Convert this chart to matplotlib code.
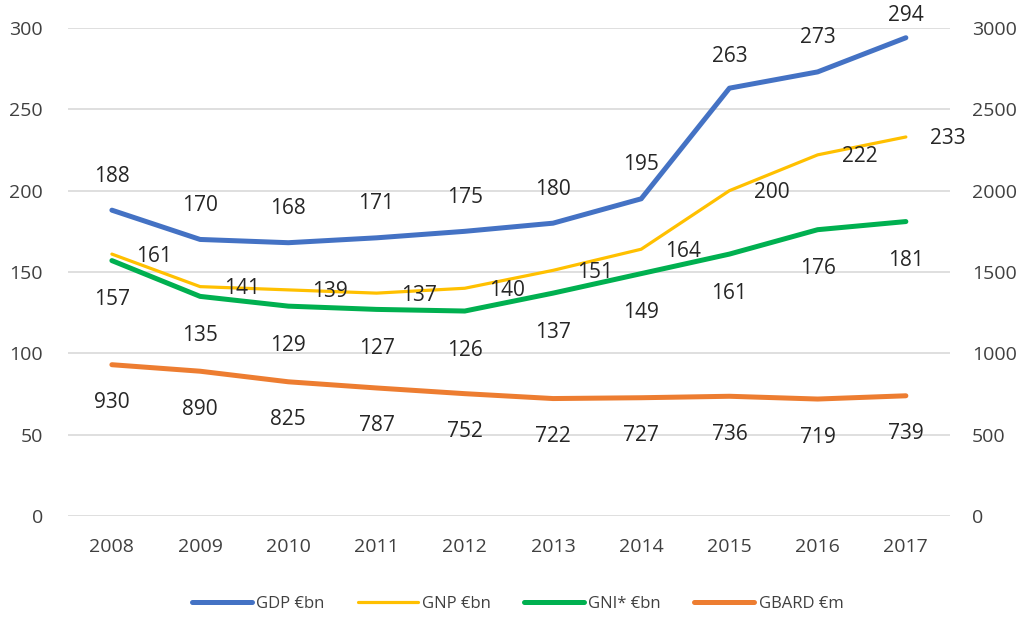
import matplotlib
matplotlib.use("Agg")
import matplotlib.pyplot as plt

years = ["2008", "2009", "2010", "2011", "2012", "2013", "2014", "2015", "2016", "2017"]
gdp = [188, 170, 168, 171, 175, 180, 195, 263, 273, 294]
gnp = [161, 141, 139, 137, 140, 151, 164, 200, 222, 233]
gni = [157, 135, 129, 127, 126, 137, 149, 161, 176, 181]
gbard = [930, 890, 825, 787, 752, 722, 727, 736, 719, 739]

# label vertical offsets (pixels) for GDP labels; last one clamped at top like the original
gdp_off = [34, 34, 34, 34, 34, 34, 34, 32, 34, 22]

plt.rcParams['font.family'] = ['Open Sans', 'DejaVu Sans']
fig = plt.figure(figsize=(10.27, 6.19), dpi=100)
ax = fig.add_axes([0.066, 0.1664, 0.859, 0.7884])
ax2 = ax.twinx()

x = list(range(len(years)))
c_gdp, c_gnp, c_gni, c_gb = "#4472C4", "#FFC000", "#00B050", "#ED7D31"

l1, = ax.plot(x, gdp, color=c_gdp, lw=3.6, solid_capstyle='round', label="GDP €bn", zorder=3)
l2, = ax.plot(x, gnp, color=c_gnp, lw=2.3, solid_capstyle='round', label="GNP €bn", zorder=3)
l3, = ax.plot(x, gni, color=c_gni, lw=3.6, solid_capstyle='round', label="GNI* €bn", zorder=3)
l4, = ax2.plot(x, gbard, color=c_gb, lw=3.6, solid_capstyle='round', label="GBARD €m", zorder=3)

ax.set_xlim(-0.5, len(years) - 0.5)
ax.set_ylim(0, 300)
ax2.set_ylim(0, 3000)
ax.set_yticks(range(0, 301, 50))
ax2.set_yticks(range(0, 3001, 500))
ax.set_xticks(x)
ax.set_xticklabels(years)
ax.grid(axis='y', color='#D9D9D9', lw=1.2)
ax.set_axisbelow(True)
for a in (ax, ax2):
    for s in a.spines.values():
        s.set_visible(False)
    a.tick_params(length=0, labelsize=14, colors='#404040')
ax.tick_params(axis='y', pad=18)
ax2.tick_params(axis='y', pad=16)
ax.tick_params(axis='x', pad=16)

fs = 15
tc = '#262626'
for xi, v, o in zip(x, gdp, gdp_off):
    ax.annotate(str(v), (xi, v), xytext=(0, o), textcoords='offset pixels',
                ha='center', va='center', fontsize=fs, color=tc)
for xi, v in zip(x, gnp):
    ax.annotate(str(v), (xi, v), xytext=(42, -2), textcoords='offset pixels',
                ha='center', va='center', fontsize=fs, color=tc)
for xi, v in zip(x, gni):
    ax.annotate(str(v), (xi, v), xytext=(0, -39), textcoords='offset pixels',
                ha='center', va='center', fontsize=fs, color=tc)
for xi, v in zip(x, gbard):
    ax2.annotate(str(v), (xi, v), xytext=(0, -38), textcoords='offset pixels',
                 ha='center', va='center', fontsize=fs, color=tc)

fig.legend(handles=[l1, l2, l3, l4], loc='center', bbox_to_anchor=(0.504, 0.024),
           ncol=4, frameon=False, fontsize=12, handlelength=3.6, columnspacing=2.0,
           handletextpad=0.25, labelcolor='#404040')

fig.savefig("out.png", dpi=100)
